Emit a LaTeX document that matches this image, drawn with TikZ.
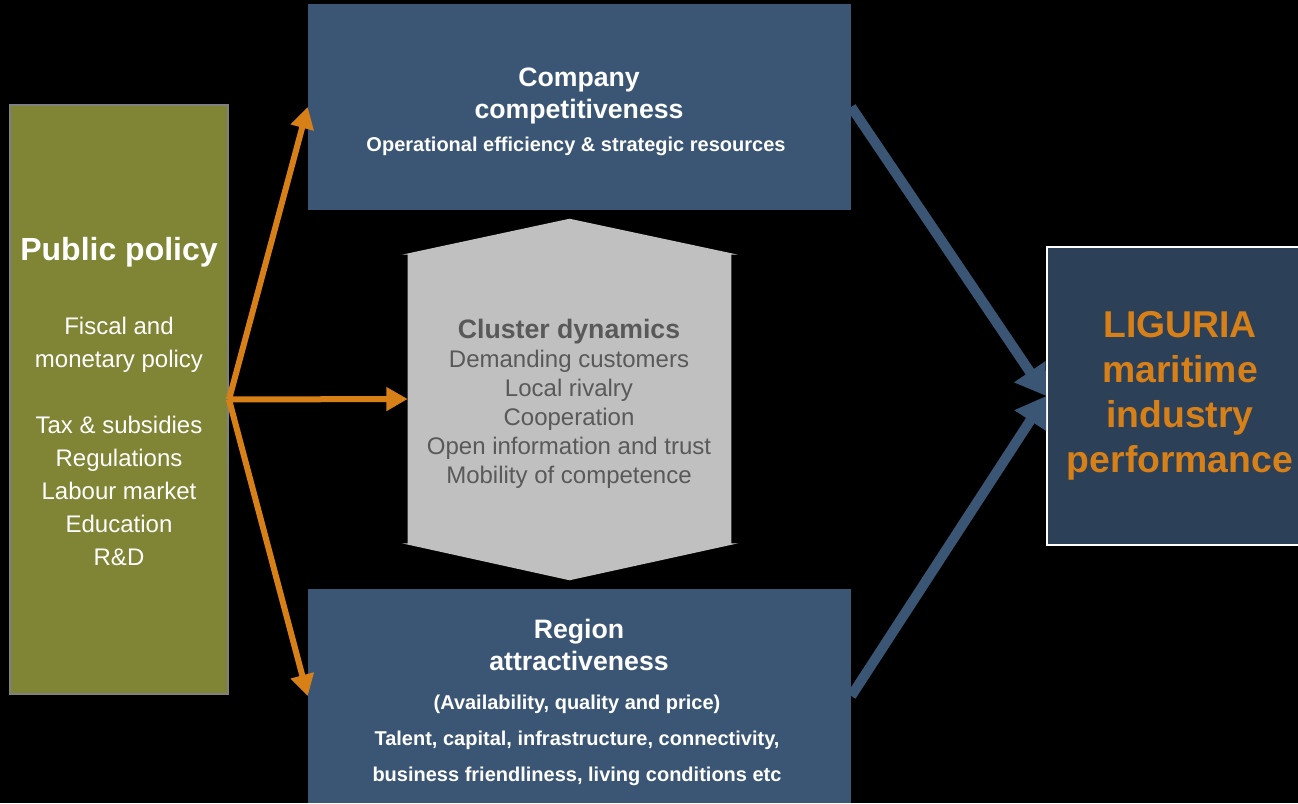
\documentclass[tikz,border=0pt]{standalone}
\usepackage{fontspec}
\setmainfont{Liberation Sans}
\usetikzlibrary{arrows.meta, calc}

\definecolor{boxblue}{RGB}{58,86,116}
\definecolor{darkblue}{RGB}{44,64,88}
\definecolor{olivegreen}{RGB}{127,133,52}
\definecolor{clustergray}{RGB}{192,192,192}
\definecolor{policyorange}{RGB}{216,128,24}
\definecolor{textgray}{RGB}{89,89,89}

\begin{document}
\begin{tikzpicture}[x=0.75pt, y=-0.75pt,
	bluebox/.style={rectangle, fill=boxblue, inner sep=0pt},
	txt/.style={align=center, inner sep=0pt, text=white},
	orangearrow/.style={draw=policyorange, line width=4.5pt, -{Triangle[length=16pt, width=17pt]}},
	bluearrow/.style={draw=boxblue, line width=7.5pt, -{Triangle[length=22pt, width=27pt]}}]
	
	%%% Sfondo
	\fill[black] (0,0) rectangle (1298,803);
	\useasboundingbox (0,0) rectangle (1298,803);
	
	%%% Riquadri
	\node[rectangle, fill=olivegreen, draw=gray, line width=1.5pt, minimum width=163.5pt, minimum height=441.75pt] (policy) at (119,399.5) {};
	\node[bluebox, minimum width=407.25pt, minimum height=154.5pt] (company) at (579.5,107) {};
	\node[bluebox, minimum width=407.25pt, minimum height=160.5pt] (region) at (579.5,696) {};
	\node[rectangle, fill=darkblue, draw=white, line width=1.2pt, minimum width=190.5pt, minimum height=223.5pt] (liguria) at (1174,396) {};
	\node[rectangle, inner sep=0pt, minimum width=242.25pt, minimum height=216pt] (cluster) at (569.5,399) {};
	\fill[clustergray] (cluster.north west) -- ($(cluster.north west)+(-6,0)$) -- ($(cluster.north)+(0,-36)$)
		-- ($(cluster.north east)+(7,0)$) -- (cluster.north east) -- (cluster.south east)
		-- ($(cluster.south east)+(7,0)$) -- ($(cluster.south)+(0,37)$) -- ($(cluster.south west)+(-6,0)$)
		-- (cluster.south west) -- cycle;
	
	%%% Testi
	\node[txt, font=\bfseries\fontsize{24}{28}\selectfont] (policytitle) at (119,252) {Public policy};
	\node[txt, font=\fontsize{18}{24.75}\selectfont] (policyitems) at (119,441.5)
		{Fiscal and\\monetary policy\\[24.75pt]Tax \& subsidies\\Regulations\\Labour market\\Education\\R\&D};
	\node[txt, font=\bfseries\fontsize{20}{24}\selectfont] (companytitle) at (579,96) {Company\\competitiveness};
	\node[txt, font=\bfseries\fontsize{15}{18}\selectfont] (companysub) at (576,146) {Operational efficiency \& strategic resources};
	\node[txt, text=textgray, font=\bfseries\fontsize{20}{24}\selectfont] (clustertitle) at (569,332) {Cluster dynamics};
	\node[txt, text=textgray, font=\fontsize{18}{21.75}\selectfont] (clusteritems) at (569,419)
		{Demanding customers\\Local rivalry\\Cooperation\\Open information and trust\\Mobility of competence};
	\node[txt, font=\bfseries\fontsize{20}{24}\selectfont] (regiontitle) at (579,645) {Region\\attractiveness};
	\node[txt, font=\bfseries\fontsize{15}{27}\selectfont] (regionitems) at (577,740)
		{(Availability, quality and price)\\Talent, capital, infrastructure, connectivity,\\business friendliness, living conditions etc};
	\node[txt, text=policyorange, font=\bfseries\fontsize{28}{33.75}\selectfont] (liguriatext) at (1180,396)
		{LIGURIA\\maritime\\industry\\performance};
	
	%%% Frecce
	\draw[orangearrow] (policy.east) -- (company.west);
	\draw[orangearrow] (policy.east) -- (cluster.west);
	\draw[orangearrow] (policy.east) -- (region.west);
	\draw[bluearrow] (company.east) -- (liguria.west);
	\draw[bluearrow] (region.east) -- (liguria.west);
\end{tikzpicture}
\end{document}
